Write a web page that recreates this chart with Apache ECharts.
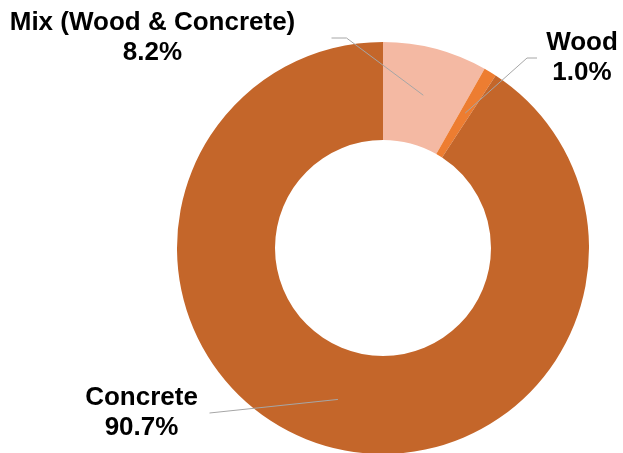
<!DOCTYPE html>
<html>
<head>
<meta charset="utf-8">
<script src="https://cdn.jsdelivr.net/npm/echarts@6/dist/echarts.min.js"></script>
<style>
  html, body { margin: 0; padding: 0; background: #ffffff; }
  #chart { width: 623px; height: 453px; }
</style>
</head>
<body>
<div id="chart"></div>
<script>
// data (clockwise from 12 o'clock)
const categories = ["Mix (Wood & Concrete)", "Wood", "Concrete"];
const shares = [8.2, 1.0, 90.7];
const sliceColors = ["#F4B9A3", "#ED7D31", "#C4662A"];

// label boxes: where each label sits and how its leader line meets it
const labelPlaces = [
  { x: 169, y: 38, width: 292, padding: [0, 33, 0, 0], length2: 15 },
  { x: 578, y: 58, width: 74, padding: [0, 0, 0, 8], length2: 10 },
  { x: 147, y: 413, width: 114, padding: [0, 11, 0, 0], length2: 0 },
];

const chart = echarts.init(document.getElementById("chart"));

const ringData = categories.map(function (name, i) {
  return { name: name, value: shares[i], itemStyle: { color: sliceColors[i] } };
});

// invisible inner pie: only used to start the leader lines inside the ring
const labelData = categories.map(function (name, i) {
  return {
    name: name,
    value: shares[i],
    label: { width: labelPlaces[i].width, padding: labelPlaces[i].padding },
    labelLine: { length2: labelPlaces[i].length2 },
  };
});

const option = {
  animation: false,
  series: [
    {
      type: "pie",
      z: 2,
      center: [383, 248],
      radius: [108, 206],
      startAngle: 90,
      clockwise: true,
      silent: true,
      label: { show: false },
      labelLine: { show: false },
      data: ringData,
    },
    {
      type: "pie",
      z: 5,
      center: [383, 248],
      radius: [0, 158],
      startAngle: 90,
      clockwise: true,
      silent: true,
      itemStyle: { color: "rgba(0,0,0,0)" },
      label: {
        show: true,
        position: "outside",
        color: "#000000",
        fontFamily: "'Liberation Sans', Arial, sans-serif",
        fontWeight: "bold",
        fontSize: 26,
        lineHeight: 30,
        align: "center",
        overflow: "none",
        formatter: function (p) {
          return p.name + "\n" + p.value.toFixed(1) + "%";
        },
      },
      labelLine: {
        show: true,
        length: 10,
        minTurnAngle: 20,
        lineStyle: { color: "#A6A6A6", width: 1 },
      },
      labelLayout: function (params) {
        const spot = labelPlaces[params.dataIndex];
        return { x: spot.x, y: spot.y, align: "center", verticalAlign: "middle" };
      },
      data: labelData,
    },
  ],
};

chart.setOption(option);
</script>
</body>
</html>
